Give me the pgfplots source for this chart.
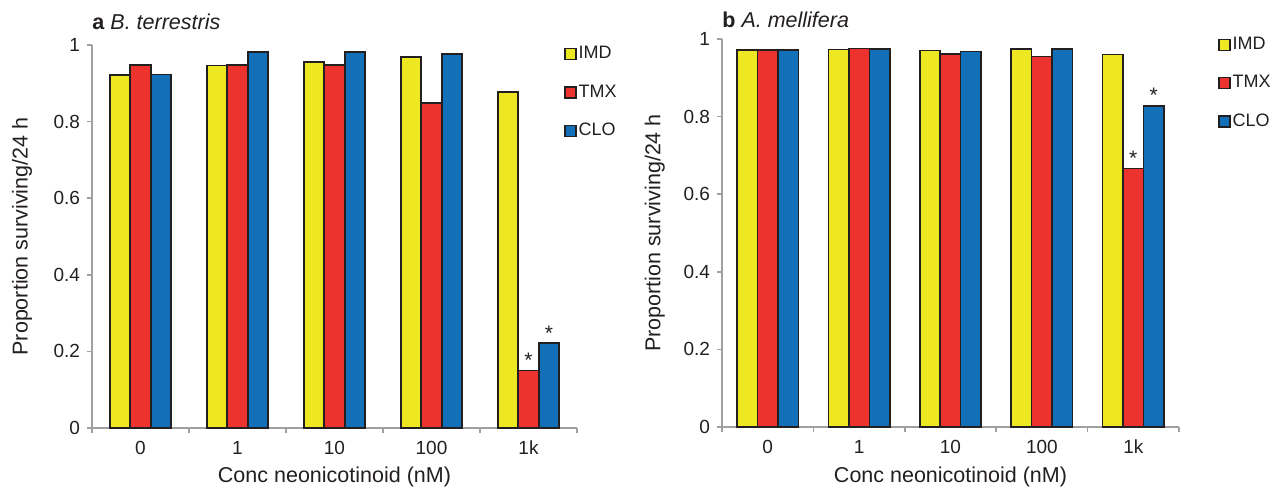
\documentclass[border=0pt]{standalone}
\usepackage{pgfplots}
\pgfplotsset{compat=1.18}
\usepackage{fontspec}
\setmainfont{Liberation Sans}

\definecolor{imd}{RGB}{237,232,33}
\definecolor{tmx}{RGB}{236,51,45}
\definecolor{clo}{RGB}{19,112,184}
\definecolor{axgray}{RGB}{160,160,160}
\definecolor{txt}{RGB}{35,31,32}

\pgfplotsset{
  beeplot/.style={
    ybar=0pt, bar width=10.2pt,
    scale only axis,
    xmin=-0.5, xmax=4.5, ymin=0, ymax=1,
    axis lines=left,
    axis line style={-, draw=axgray, line width=0.75pt},
    tick align=outside,
    major tick length=2.5pt,
    every tick/.style={draw=axgray, line width=0.75pt},
    xtick={-0.5,0.5,...,4.5}, xticklabels={},
    extra x ticks={0,1,2,3,4},
    extra x tick labels={0,1,10,100,1k},
    extra x tick style={major tick length=0pt, xticklabel style={yshift=-3pt}},
    ytick={0,0.2,...,1},
    /pgf/number format/assume math mode=true,
    tick label style={font=\fontsize{9.5}{10}\selectfont, text=txt},
    label style={font=\fontsize{10.75}{12}\selectfont, text=txt},
    xlabel={Conc neonicotinoid (nM)},
    ylabel={Proportion surviving/24 h},
    title style={anchor=west, yshift=-6pt, inner sep=0pt, font=\fontsize{10.75}{12}\selectfont, text=txt},
    legend style={draw=none, fill=none, inner sep=0pt, anchor=north west,
      font=\fontsize{9}{10}\selectfont, text=txt, row sep=9.5pt,
      nodes={inner sep=1pt}},
    legend cell align=left,
    legend image code/.code={\draw[##1, line width=0.7pt] (0pt,-2.75pt) rectangle (5.5pt,2.75pt);},
    nodes near coords style={font=\fontsize{10.5}{10}\selectfont, text=txt, inner sep=1pt, anchor=south},
  },
  barstyle/.style={draw=txt, line width=0.8pt},
}

\begin{document}
\begin{tikzpicture}
\path[use as bounding box] (0,0) rectangle (638pt,244.5pt);

% a: B. terrestris
\begin{axis}[beeplot, at={(46pt,30.5pt)}, anchor=south west,
  width=242.5pt, height=191.5pt, bar width=10.25pt,
  title={\textbf{a} \textit{B. terrestris}},
  title style={at={(axis description cs:0,1.06)}},
  xlabel style={at={(axis description cs:0.5,-0.128)}, anchor=center},
  ylabel style={at={(axis description cs:-0.144,0.5)}, anchor=center},
  legend style={at={(axis description cs:0.973,1.003)}},
]
\addplot[barstyle, fill=imd] coordinates {(0,0.922) (1,0.946) (2,0.956) (3,0.969) (4,0.877)};
\addplot[barstyle, fill=tmx, nodes near coords, point meta=explicit symbolic]
  coordinates {(0,0.948) [] (1,0.948) [] (2,0.948) [] (3,0.849) [] (4,0.150) [*]};
\addplot[barstyle, fill=clo, nodes near coords, point meta=explicit symbolic]
  coordinates {(0,0.923) [] (1,0.981) [] (2,0.981) [] (3,0.977) [] (4,0.222) [*]};
\legend{IMD, TMX, CLO}
\end{axis}

% b: A. mellifera
\begin{axis}[beeplot, at={(361pt,31pt)}, anchor=south west,
  width=228.5pt, height=194pt, bar width=10.2pt,
  title={\textbf{b} \textit{A. mellifera}},
  title style={at={(axis description cs:0,1.05)}},
  xlabel style={at={(axis description cs:0.5,-0.129)}, anchor=center},
  ylabel style={at={(axis description cs:-0.147,0.5)}, anchor=center},
  legend style={at={(axis description cs:1.085,1.011)}},
]
\addplot[barstyle, fill=imd] coordinates {(0,0.972) (1,0.973) (2,0.970) (3,0.975) (4,0.960)};
\addplot[barstyle, fill=tmx, nodes near coords, point meta=explicit symbolic]
  coordinates {(0,0.972) [] (1,0.976) [] (2,0.962) [] (3,0.955) [] (4,0.666) [*]};
\addplot[barstyle, fill=clo, nodes near coords, point meta=explicit symbolic]
  coordinates {(0,0.972) [] (1,0.974) [] (2,0.968) [] (3,0.975) [] (4,0.828) [*]};
\legend{IMD, TMX, CLO}
\end{axis}
\end{tikzpicture}
\end{document}
